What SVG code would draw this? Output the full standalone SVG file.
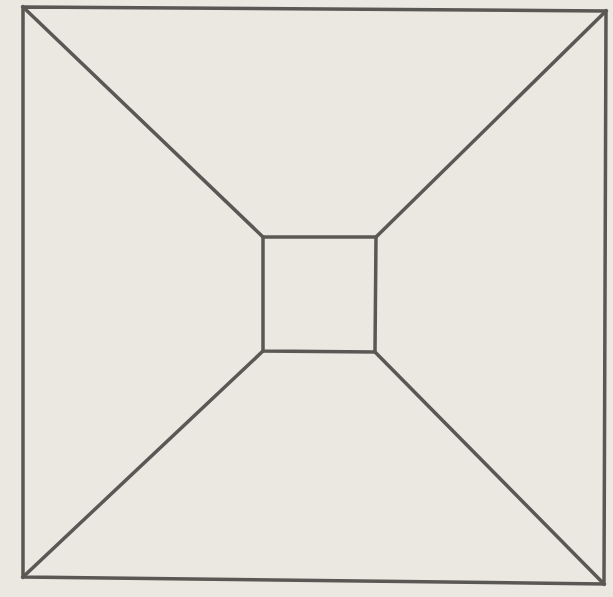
<svg xmlns="http://www.w3.org/2000/svg" width="613" height="597" viewBox="0 0 613 597">
<style>
.ln{fill:none;stroke:#5a5854;stroke-width:3.5;stroke-linejoin:miter;stroke-linecap:square}
</style>
<rect width="613" height="597" fill="#ebe8e2"/>
<g id="outer"><polygon class="ln" points="23,7 606,11 604,584 23,577"/></g>
<g id="inner"><polygon class="ln" points="263,237 376,237 375,352 263,351"/></g>
<g id="connectors">
<line class="ln" x1="23" y1="7" x2="263" y2="237"/>
<line class="ln" x1="606" y1="11" x2="376" y2="237"/>
<line class="ln" x1="23" y1="577" x2="263" y2="351"/>
<line class="ln" x1="604" y1="584" x2="375" y2="352"/>
</g>
</svg>
